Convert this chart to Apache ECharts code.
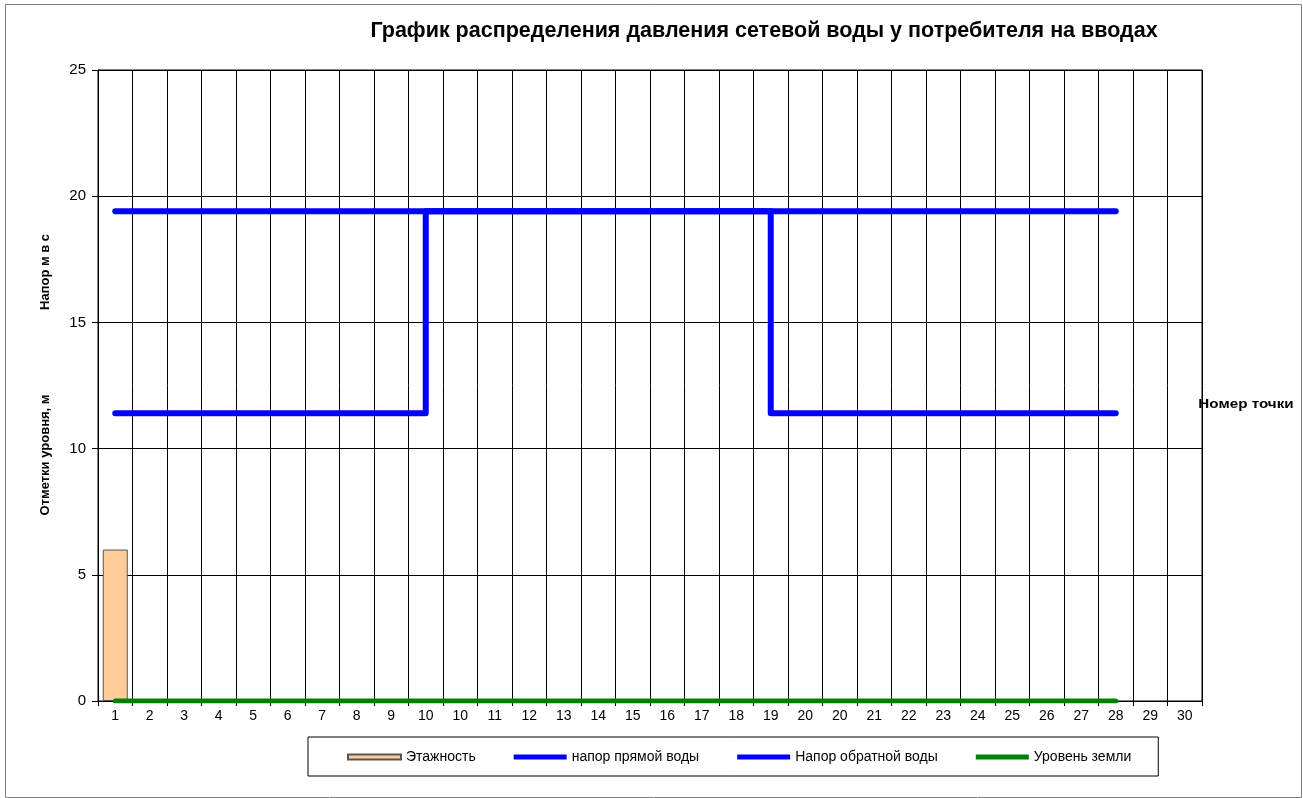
<!DOCTYPE html>
<html>
<head>
<meta charset="utf-8">
<script src="https://cdn.jsdelivr.net/npm/echarts@6/dist/echarts.min.js"></script>
<style>
html,body{margin:0;padding:0;background:#fff;}
#chart{width:1303px;height:798px;}
</style>
</head>
<body>
<div id="chart"></div>
<script>
// ---- data ----
const categories = ['1','2','3','4','5','6','7','8','9','10','10','11','12','13','14','15','16','17','18','19','20','20','21','22','23','24','25','26','27','28','29','30'];
const floors = [6];
const supplyHead = [19.4,19.4,19.4,19.4,19.4,19.4,19.4,19.4,19.4,19.4,19.4,19.4,19.4,19.4,19.4,19.4,19.4,19.4,19.4,19.4,19.4,19.4,19.4,19.4,19.4,19.4,19.4,19.4,19.4,19.4];
// return head: [category index, value] (steps at points "10" and "19")
const returnHead = [[0,11.4],[9,11.4],[9,19.4],[19,19.4],[19,11.4],[29,11.4]];
const groundLevel = [0,0,0,0,0,0,0,0,0,0,0,0,0,0,0,0,0,0,0,0,0,0,0,0,0,0,0,0,0,0];
const yTicks = {min:0, max:25, interval:5};
const seriesNames = ['Этажность','напор прямой воды','Напор обратной воды','Уровень земли'];
const titleText = 'График распределения давления сетевой воды у потребителя на вводах';

const FONT = '"Liberation Sans", Arial, sans-serif';
const chart = echarts.init(document.getElementById('chart'), null, {renderer:'canvas'});
chart.setOption({
  backgroundColor:'#ffffff',
  animation:false,
  title:{
    text:titleText, left:759, top:15, textAlign:'center',
    textStyle:{fontFamily:FONT, fontSize:21.5, fontWeight:'bold', color:'#000'}
  },
  grid:{left:98, right:101, top:70, bottom:97, show:true, borderColor:'#000', borderWidth:1, backgroundColor:'transparent'},
  legend:{
    left:308, top:737, orient:'horizontal',
    padding:[13,27,12,39],
    borderColor:'#000', borderWidth:1,
    itemWidth:53, itemHeight:5, itemGap:38,
    textStyle:{fontFamily:FONT, fontSize:14, color:'#000'},
    data:[
      {name:seriesNames[0], icon:'rect'},
      {name:seriesNames[1], icon:'rect'},
      {name:seriesNames[2], icon:'rect'},
      {name:seriesNames[3], icon:'rect'}
    ]
  },
  xAxis:{
    type:'category', data:categories, boundaryGap:true,
    axisLine:{show:true, lineStyle:{color:'#000', width:1}},
    axisTick:{show:true, length:5, lineStyle:{color:'#000'}},
    axisLabel:{interval:0, fontFamily:FONT, fontSize:14, color:'#000', margin:8},
    splitLine:{show:true, interval:0, lineStyle:{color:'#000', width:1}}
  },
  yAxis:{
    type:'value', min:yTicks.min, max:yTicks.max, interval:yTicks.interval,
    axisLine:{show:true, lineStyle:{color:'#000', width:1}},
    axisTick:{show:true, length:6, lineStyle:{color:'#000'}},
    axisLabel:{fontFamily:FONT, fontSize:15, color:'#000', margin:12},
    splitLine:{show:true, lineStyle:{color:'#000', width:1}}
  },
  series:[
    {name:seriesNames[0], type:'bar', data:floors, barWidth:25,
     itemStyle:{color:'#FFCC99', borderColor:'#555', borderWidth:1}, z:2},
    {name:seriesNames[1], type:'line', data:supplyHead, symbol:'none',
     lineStyle:{color:'#0000FF', width:6, cap:'round', join:'round'}, itemStyle:{color:'#0000FF'}, z:3},
    {name:seriesNames[2], type:'line', data:returnHead, symbol:'none',
     lineStyle:{color:'#0000FF', width:6, cap:'round', join:'round'}, itemStyle:{color:'#0000FF'}, z:3},
    {name:seriesNames[3], type:'line', data:groundLevel, symbol:'none',
     lineStyle:{color:'#008000', width:5, cap:'round'}, itemStyle:{color:'#008000'}, z:4}
  ],
  graphic:[
    {type:'rect', left:3, top:2, z:-1, silent:true,
     shape:{width:1296, height:793}, style:{fill:'none', stroke:'#808080', lineWidth:1}},
    {type:'text', x:45, y:272, rotation:Math.PI/2, silent:true,
     style:{text:'Напор м в с', font:'bold 13px ' + FONT, fill:'#000', textAlign:'center', textVerticalAlign:'middle'}},
    {type:'text', x:45, y:455, rotation:Math.PI/2, silent:true,
     style:{text:'Отметки уровня, м', font:'bold 13px ' + FONT, fill:'#000', textAlign:'center', textVerticalAlign:'middle'}},
    {type:'text', x:1246, y:404, silent:true, scaleX:1.17,
     style:{text:'Номер точки', font:'bold 13px ' + FONT, fill:'#000', textAlign:'center', textVerticalAlign:'middle'}}
  ]
});
</script>
</body>
</html>
